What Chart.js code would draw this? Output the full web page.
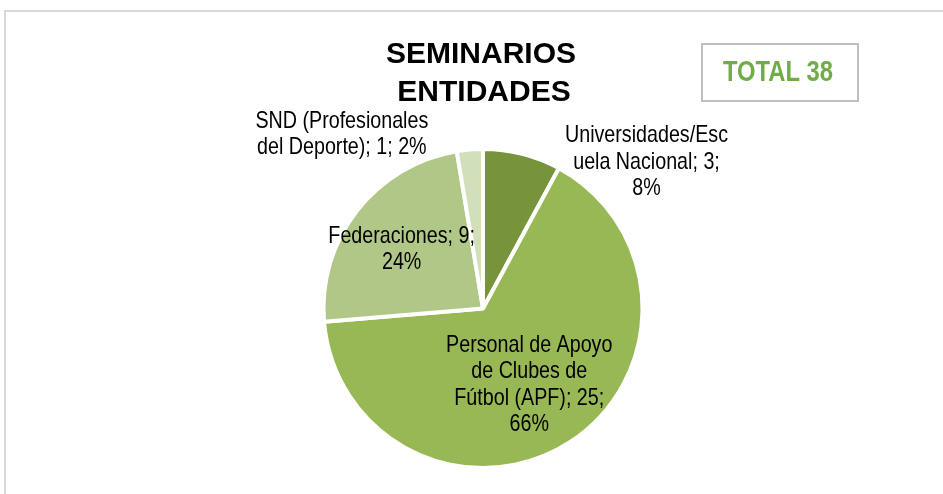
<!DOCTYPE html>
<html>
<head>
<meta charset="utf-8">
<script src="https://cdn.jsdelivr.net/npm/chart.js@4.4.1/dist/chart.umd.min.js"></script>
<style>
  html, body { margin: 0; padding: 0; background: #ffffff; }
  #wrap { width: 943px; height: 494px; position: relative; }
</style>
</head>
<body>
<div id="wrap"><canvas id="c" width="943" height="494"></canvas></div>
<script>
// ---- data ----
const categories = [
  "Universidades/Escuela Nacional",
  "Personal de Apoyo de Clubes de Fútbol (APF)",
  "Federaciones",
  "SND (Profesionales del Deporte)"
];
const values = [3, 25, 9, 1];
const percentLabels = [8, 66, 24, 2];
const titleLines = ["SEMINARIOS", "ENTIDADES"];
const totalText = "TOTAL";

// ---- styles ----
const sliceColors = ["#77933C", "#98B855", "#B0C788", "#D2DFBB"];
// label anchor relative to pie centre, in units of the radius; wrap width in px
const labelLayout = [
  { fx: 1.025, fy: -0.93, wrap: 168 },
  { fx: 0.29, fy: 0.466, wrap: 168 },
  { fx: -0.51, fy: -0.384, wrap: 168 },
  { fx: -0.885, fy: -1.105, wrap: 185 }
];

const probe = document.createElement('canvas').getContext('2d');
probe.font = '24px "Liberation Sans"';
const wReg = probe.measureText('Universidades Nacional').width;
probe.font = '24px "Liberation Sans Narrow", "Liberation Sans"';
const wNar = probe.measureText('Universidades Nacional').width;
const hasNarrow = wNar / wReg < 0.9;
const NARROW = hasNarrow ? '"Liberation Sans Narrow"' : '"Liberation Sans"';
const SX = hasNarrow ? 1 : 0.82;

function setNarrowFont(ctx, size, bold) {
  ctx.font = (bold ? 'bold ' : '') + size + 'px ' + NARROW + ', "Liberation Sans", Arial, sans-serif';
}
function textW(ctx, s) { return ctx.measureText(s).width * SX; }
function drawNarrow(ctx, s, x, y) {
  ctx.save();
  ctx.translate(x, y);
  ctx.scale(SX, 1);
  ctx.fillText(s, 0, 0);
  ctx.restore();
}
function wrapText(ctx, text, maxW) {
  const words = text.split(' ');
  const lines = [];
  let cur = '';
  for (const w of words) {
    const trial = cur ? cur + ' ' + w : w;
    if (textW(ctx, trial) <= maxW) { cur = trial; continue; }
    if (cur) { lines.push(cur); cur = ''; }
    let word = w;
    while (textW(ctx, word) > maxW) {
      let k = word.length;
      while (k > 1 && textW(ctx, word.slice(0, k)) > maxW) k--;
      lines.push(word.slice(0, k));
      word = word.slice(k);
    }
    cur = word;
  }
  if (cur) lines.push(cur);
  return lines;
}

const framePlugin = {
  id: 'frame',
  beforeDraw(chart) {
    const ctx = chart.ctx;
    ctx.save();
    ctx.fillStyle = '#ffffff';
    ctx.fillRect(0, 0, chart.width, chart.height);
    ctx.strokeStyle = '#D9D9D9';
    ctx.lineWidth = 2;
    ctx.beginPath();
    ctx.moveTo(5, chart.height);
    ctx.lineTo(5, 11);
    ctx.lineTo(chart.width, 11);
    ctx.stroke();
    ctx.restore();
  }
};

const labelPlugin = {
  id: 'sliceLabels',
  afterDatasetsDraw(chart) {
    const ctx = chart.ctx;
    const meta = chart.getDatasetMeta(0);
    const arc0 = meta.data[0];
    const cx = arc0.x, cy = arc0.y, R = arc0.outerRadius;
    ctx.save();
    ctx.fillStyle = '#000000';
    ctx.textAlign = 'center';
    ctx.textBaseline = 'alphabetic';
    setNarrowFont(ctx, 24, false);
    const lh = 26.5, cap = 17.2;
    categories.forEach((cat, i) => {
      const lay = labelLayout[i];
      const txt = cat + '; ' + values[i] + '; ' + percentLabels[i] + '%';
      const lines = wrapText(ctx, txt, lay.wrap);
      const x = cx + lay.fx * R;
      const yc = cy + lay.fy * R;
      const y0 = yc - (lines.length - 1) * lh / 2 + cap / 2;
      lines.forEach((ln, j) => drawNarrow(ctx, ln, x, y0 + j * lh));
    });

    // title
    ctx.font = 'bold 30px "Liberation Sans", Arial, sans-serif';
    ctx.fillText(titleLines[0], 481, 63);
    ctx.fillText(titleLines[1], 484, 101);

    // total box
    ctx.strokeStyle = '#BFBFBF';
    ctx.lineWidth = 2;
    ctx.strokeRect(702, 44, 156, 57);
    ctx.fillStyle = '#70AD47';
    setNarrowFont(ctx, 29, true);
    const total = values.reduce((a, b) => a + b, 0);
    drawNarrow(ctx, totalText + ' ' + total, 778, 81);
    ctx.restore();
  }
};

new Chart(document.getElementById('c'), {
  type: 'pie',
  data: {
    labels: categories,
    datasets: [{
      data: values,
      backgroundColor: sliceColors,
      borderColor: '#ffffff',
      borderWidth: 4
    }]
  },
  options: {
    responsive: false,
    animation: false,
    events: [],
    layout: { padding: { top: 147, bottom: 24, left: 23, right: 0 } },
    plugins: {
      legend: { display: false },
      tooltip: { enabled: false },
      title: { display: false }
    }
  },
  plugins: [framePlugin, labelPlugin]
});
</script>
</body>
</html>
